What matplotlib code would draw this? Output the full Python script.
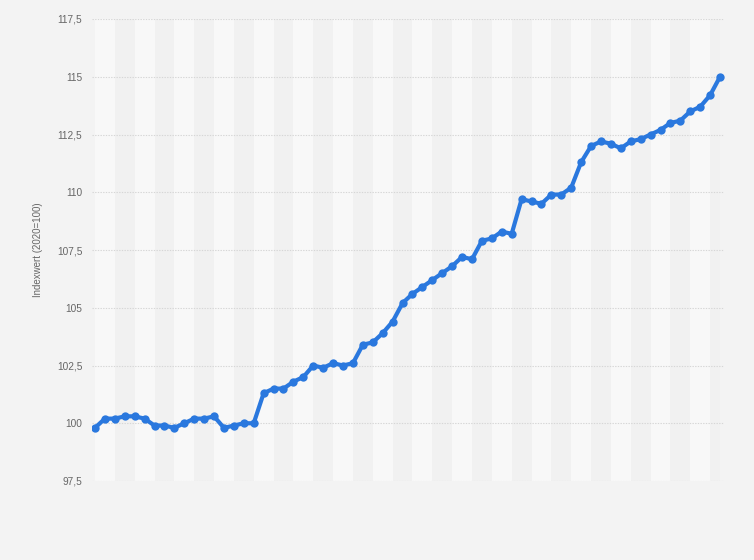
import matplotlib
matplotlib.use("Agg")
import matplotlib.pyplot as plt
from matplotlib.ticker import FuncFormatter, FixedLocator

values = [99.8, 100.2, 100.2, 100.3, 100.3, 100.2, 99.9, 99.9, 99.8, 100.0,
          100.2, 100.2, 100.3, 99.8, 99.9, 100.0, 100.0, 101.3, 101.5, 101.5,
          101.8, 102.0, 102.5, 102.4, 102.6, 102.5, 102.6, 103.4, 103.5, 103.9,
          104.4, 105.2, 105.6, 105.9, 106.2, 106.5, 106.8, 107.2, 107.1, 107.9,
          108.0, 108.3, 108.2, 109.7, 109.6, 109.5, 109.9, 109.9, 110.2, 111.3,
          112.0, 112.2, 112.1, 111.9, 112.2, 112.3, 112.5, 112.7, 113.0, 113.1,
          113.5, 113.7, 114.2, 115.0]
y_ticks = [97.5, 100, 102.5, 105, 107.5, 110, 112.5, 115, 117.5]
y_label = "Indexwert (2020=100)"

plt.rcParams['font.family'] = ['Liberation Sans', 'DejaVu Sans']

fig = plt.figure(figsize=(7.54, 5.60), dpi=100, facecolor='#f3f3f3')
ax = fig.add_axes([92/754, 1-481/560, 632/754, 462/560])
ax.set_facecolor('#f3f3f3')

n = len(values)
x = list(range(n))

# alternating vertical bands (two points per band)
for i in range(0, n, 4):
    ax.axvspan(i, min(i + 2, n - 1), color='#f8f8f8', zorder=0, lw=0)
for i in range(2, n, 4):
    ax.axvspan(i, min(i + 2, n - 1), color='#f1f1f1', zorder=0, lw=0)

ax.plot(x, values, color='#2a78de', lw=3.0, marker='o', markersize=6,
        markeredgewidth=0, zorder=3, solid_joinstyle='round')

ax.set_ylim(97.5, 117.5)
ax.set_xlim(-0.3, n - 1 + 0.4)
ax.yaxis.set_major_locator(FixedLocator(y_ticks))
ax.yaxis.set_major_formatter(FuncFormatter(
    lambda v, p: (f"{v:.1f}".replace('.', ',') if v % 1 else f"{int(v)}")))
ax.set_xticks([])
ax.grid(axis='y', color='#d6d6d6', linestyle=(0, (1.2, 1.2)), lw=0.8, zorder=1)
ax.tick_params(axis='y', length=0, pad=7, labelsize=7.3, labelcolor='#666666')
for s in ax.spines.values():
    s.set_visible(False)

ax.set_ylabel(y_label, fontsize=7.0, color='#666666')
ax.yaxis.set_label_coords(-0.0775, 0.5)

fig.savefig('out.png', dpi=100, facecolor=fig.get_facecolor())
